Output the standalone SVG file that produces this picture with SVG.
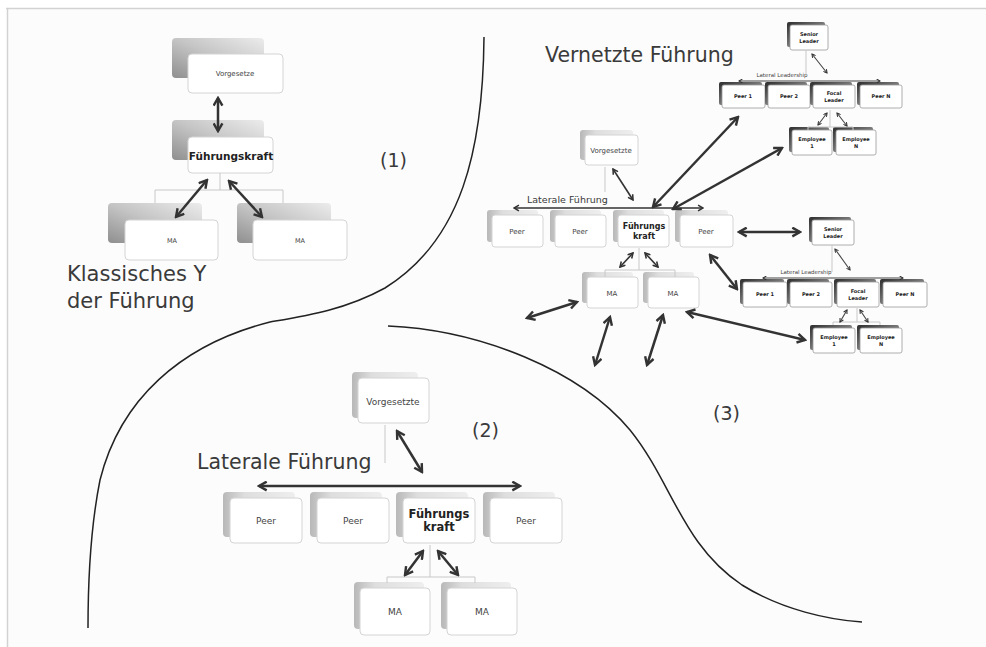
<svg xmlns="http://www.w3.org/2000/svg" width="986" height="647" viewBox="0 0 986 647">
<style>
.bk{fill:url(#gback)}
.bk2{fill:url(#gback2)}
.fr{fill:#fff;stroke:#d4d4d4;stroke-width:1}
.dk{fill:url(#gdark)}
.frd{fill:#fff;stroke:#9a9a9a;stroke-width:0.8}
.ln{stroke:#c8c8c8;stroke-width:1;fill:none}
.ar{stroke:#333;stroke-width:2.5;fill:none;marker-start:url(#ah);marker-end:url(#ah)}
.ars{stroke:#333;stroke-width:1.6;fill:none;marker-start:url(#ah);marker-end:url(#ah)}
.arx{stroke:#444;stroke-width:1.1;fill:none;marker-start:url(#ah);marker-end:url(#ah)}
.t{font-family:"DejaVu Sans",Verdana,sans-serif;fill:#444;text-anchor:middle}
.b{font-weight:bold;fill:#222}
.h{font-family:"DejaVu Sans",Verdana,sans-serif;fill:#3a3a3a}
.cv{fill:none;stroke:#222;stroke-width:1.5}
</style>
<defs>
<linearGradient id="gback" x1="0" y1="1" x2="1" y2="0">
<stop offset="0" stop-color="#8f8f8f"/><stop offset="0.5" stop-color="#c4c4c4"/><stop offset="1" stop-color="#ececec"/>
</linearGradient>
<linearGradient id="gback2" x1="0" y1="0" x2="1" y2="0">
<stop offset="0" stop-color="#b8b8b8"/><stop offset="0.3" stop-color="#dedede"/><stop offset="1" stop-color="#eeeeee"/>
</linearGradient>
<linearGradient id="gdark" x1="0" y1="0" x2="1" y2="1">
<stop offset="0" stop-color="#2e2e2e"/><stop offset="0.5" stop-color="#777"/><stop offset="1" stop-color="#bbb"/>
</linearGradient>
<marker id="ah" viewBox="0 0 10 10" refX="8.5" refY="5" markerWidth="4.4" markerHeight="4.4" orient="auto-start-reverse" markerUnits="strokeWidth">
<path d="M1.5,1 L8.5,5 L1.5,9" fill="none" stroke="#333" stroke-width="2.2" stroke-linejoin="miter"/>
</marker>
</defs>

<rect x="0" y="0" width="986" height="647" fill="#fff"/>
<rect x="8" y="9" width="978" height="638" fill="#fcfcfc"/>
<path d="M6,8.5 H986 M7.5,8 V647" stroke="#d2d2d2" stroke-width="1.5" fill="none"/>

<!-- region curves -->
<g id="curves">
<path class="cv" d="M484,37 C483,150 462,240 385,288 C345,310 305,316 270,322 C180,345 120,400 100,480 C90,530 88,590 88,628"/>
<path class="cv" d="M388,326 C480,330 580,370 630,430 C672,482 682,545 742,585 C782,610 830,620 862,622"/>
</g>

<!-- Panel 1 -->
<g id="p1-vorgesetze">
<rect class="bk" x="172" y="38" width="92" height="40" rx="4"/>
<rect class="fr" x="188" y="54" width="95" height="39" rx="4"/>
<text class="t" x="235" y="76" font-size="7">Vorgesetze</text>
</g>
<g id="p1-fuehrungskraft">
<rect class="bk" x="172" y="120" width="92" height="40" rx="4"/>
<rect class="fr" x="188" y="137" width="85" height="36" rx="4"/>
<text class="t b" x="231" y="160" font-size="10.5">Führungskraft</text>
</g>
<g id="p1-ma1">
<rect class="bk" x="108" y="203" width="94" height="40" rx="4"/>
<rect class="fr" x="125" y="220" width="93" height="40" rx="4"/>
<text class="t" x="172" y="243" font-size="6.5">MA</text>
</g>
<g id="p1-ma2">
<rect class="bk" x="237" y="203" width="94" height="40" rx="4"/>
<rect class="fr" x="253" y="220" width="94" height="40" rx="4"/>
<text class="t" x="300" y="243" font-size="6.5">MA</text>
</g>
<text class="h" x="380" y="167" font-size="19">(1)</text>
<text class="h" x="67" y="281" font-size="21">Klassisches Y</text>
<text class="h" x="67" y="308" font-size="21">der Führung</text>

<!-- Panel 2 -->
<g id="p2-vorgesetzte">
<rect class="bk2" x="352" y="372" width="66" height="46" rx="4"/>
<rect class="fr" x="358" y="378" width="71" height="45" rx="4"/>
<text class="t" x="393" y="405" font-size="9">Vorgesetzte</text>
</g>
<g id="p2-peer1">
<rect class="bk2" x="223" y="492" width="72" height="45" rx="4"/>
<rect class="fr" x="230" y="498" width="72" height="45" rx="4"/>
<text class="t" x="266" y="524" font-size="9">Peer</text>
</g>
<g id="p2-peer2">
<rect class="bk2" x="310" y="492" width="72" height="45" rx="4"/>
<rect class="fr" x="317" y="498" width="72" height="45" rx="4"/>
<text class="t" x="353" y="524" font-size="9">Peer</text>
</g>
<g id="p2-fuehrungskraft">
<rect class="bk2" x="396" y="492" width="72" height="45" rx="4"/>
<rect class="fr" x="403" y="498" width="72" height="45" rx="4"/>
<text class="t b" x="439" y="518" font-size="11.5">Führungs</text>
<text class="t b" x="439" y="531" font-size="11.5">kraft</text>
</g>
<g id="p2-peer3">
<rect class="bk2" x="483" y="492" width="72" height="45" rx="4"/>
<rect class="fr" x="490" y="498" width="72" height="45" rx="4"/>
<text class="t" x="526" y="524" font-size="9">Peer</text>
</g>
<g id="p2-ma1">
<rect class="bk2" x="354" y="582" width="70" height="47" rx="4"/>
<rect class="fr" x="360" y="588" width="70" height="47" rx="4"/>
<text class="t" x="395" y="615" font-size="9">MA</text>
</g>
<g id="p2-ma2">
<rect class="bk2" x="441" y="582" width="70" height="47" rx="4"/>
<rect class="fr" x="447" y="588" width="70" height="47" rx="4"/>
<text class="t" x="482" y="615" font-size="9">MA</text>
</g>
<text class="h" x="197" y="469" font-size="20.5">Laterale Führung</text>
<text class="h" x="472" y="437" font-size="19">(2)</text>

<!-- Panel 3 -->
<text class="h" x="545" y="62" font-size="20.5">Vernetzte Führung</text>
<text class="h" x="713" y="420" font-size="19">(3)</text>

<g id="p3-vorgesetzte">
<rect class="bk2" x="580" y="130" width="53" height="30" rx="3"/>
<rect class="fr" x="585" y="135" width="53" height="30" rx="3"/>
<text class="t" x="611" y="153" font-size="7">Vorgesetzte</text>
</g>
<g id="p3-peer1">
<rect class="bk2" x="487" y="210" width="51" height="32" rx="3"/>
<rect class="fr" x="492" y="215" width="51" height="32" rx="3"/>
<text class="t" x="517" y="234" font-size="7">Peer</text>
</g>
<g id="p3-peer2">
<rect class="bk2" x="550" y="210" width="51" height="32" rx="3"/>
<rect class="fr" x="555" y="215" width="51" height="32" rx="3"/>
<text class="t" x="580" y="234" font-size="7">Peer</text>
</g>
<g id="p3-fuehrungskraft">
<rect class="bk2" x="613" y="210" width="51" height="32" rx="3"/>
<rect class="fr" x="618" y="215" width="51" height="32" rx="3"/>
<text class="t b" x="644" y="229" font-size="8">Führungs</text>
<text class="t b" x="644" y="239" font-size="8">kraft</text>
</g>
<g id="p3-peer3">
<rect class="bk2" x="675" y="210" width="53" height="32" rx="3"/>
<rect class="fr" x="680" y="215" width="53" height="32" rx="3"/>
<text class="t" x="706" y="234" font-size="7">Peer</text>
</g>
<g id="p3-ma1">
<rect class="bk2" x="582" y="272" width="51" height="31" rx="3"/>
<rect class="fr" x="587" y="277" width="51" height="31" rx="3"/>
<text class="t" x="612" y="296" font-size="7">MA</text>
</g>
<g id="p3-ma2">
<rect class="bk2" x="643" y="272" width="51" height="31" rx="3"/>
<rect class="fr" x="648" y="277" width="51" height="31" rx="3"/>
<text class="t" x="673" y="296" font-size="7">MA</text>
</g>
<text class="h" x="527" y="203" font-size="9.5" fill="#555">Laterale Führung</text>

<!-- cluster A (top) -->
<g id="a-senior">
<rect class="dk" x="787" y="22" width="38" height="25" rx="2"/>
<rect class="frd" x="790" y="25" width="38" height="25" rx="2"/>
<text class="t b" x="809" y="36" font-size="5">Senior</text>
<text class="t b" x="809" y="43" font-size="5">Leader</text>
</g>
<text class="t" x="782" y="77" font-size="5.5">Lateral Leadership</text>
<g id="a-peer1">
<rect class="dk" x="719" y="82" width="43" height="23" rx="2"/>
<rect class="frd" x="722" y="85" width="43" height="23" rx="2"/>
<text class="t b" x="743" y="98" font-size="5">Peer 1</text>
</g>
<g id="a-peer2">
<rect class="dk" x="765" y="82" width="42" height="23" rx="2"/>
<rect class="frd" x="768" y="85" width="42" height="23" rx="2"/>
<text class="t b" x="789" y="98" font-size="5">Peer 2</text>
</g>
<g id="a-focal">
<rect class="dk" x="810" y="82" width="42" height="23" rx="2"/>
<rect class="frd" x="813" y="85" width="42" height="23" rx="2"/>
<text class="t b" x="834" y="95" font-size="5">Focal</text>
<text class="t b" x="834" y="102" font-size="5">Leader</text>
</g>
<g id="a-peern">
<rect class="dk" x="857" y="82" width="42" height="23" rx="2"/>
<rect class="frd" x="860" y="85" width="42" height="23" rx="2"/>
<text class="t b" x="881" y="98" font-size="5">Peer N</text>
</g>
<g id="a-emp1">
<rect class="dk" x="789" y="127" width="40" height="25" rx="2"/>
<rect class="frd" x="792" y="130" width="40" height="25" rx="2"/>
<text class="t b" x="812" y="141" font-size="5">Employee</text>
<text class="t b" x="812" y="148" font-size="5">1</text>
</g>
<g id="a-empn">
<rect class="dk" x="833" y="127" width="40" height="25" rx="2"/>
<rect class="frd" x="836" y="130" width="40" height="25" rx="2"/>
<text class="t b" x="856" y="141" font-size="5">Employee</text>
<text class="t b" x="856" y="148" font-size="5">N</text>
</g>

<!-- cluster B -->
<g id="b-senior">
<rect class="dk" x="809" y="217" width="42" height="25" rx="2"/>
<rect class="frd" x="812" y="220" width="42" height="25" rx="2"/>
<text class="t b" x="833" y="231" font-size="5">Senior</text>
<text class="t b" x="833" y="238" font-size="5">Leader</text>
</g>
<text class="t" x="806" y="274" font-size="5.5">Lateral Leadership</text>
<g id="b-peer1">
<rect class="dk" x="740" y="279" width="44" height="25" rx="2"/>
<rect class="frd" x="743" y="282" width="44" height="25" rx="2"/>
<text class="t b" x="765" y="296" font-size="5">Peer 1</text>
</g>
<g id="b-peer2">
<rect class="dk" x="787" y="279" width="42" height="25" rx="2"/>
<rect class="frd" x="790" y="282" width="42" height="25" rx="2"/>
<text class="t b" x="811" y="296" font-size="5">Peer 2</text>
</g>
<g id="b-focal">
<rect class="dk" x="834" y="279" width="42" height="25" rx="2"/>
<rect class="frd" x="837" y="282" width="42" height="25" rx="2"/>
<text class="t b" x="858" y="293" font-size="5">Focal</text>
<text class="t b" x="858" y="300" font-size="5">Leader</text>
</g>
<g id="b-peern">
<rect class="dk" x="880" y="279" width="44" height="25" rx="2"/>
<rect class="frd" x="883" y="282" width="44" height="25" rx="2"/>
<text class="t b" x="905" y="296" font-size="5">Peer N</text>
</g>
<g id="b-emp1">
<rect class="dk" x="810" y="325" width="42" height="25" rx="2"/>
<rect class="frd" x="813" y="328" width="42" height="25" rx="2"/>
<text class="t b" x="834" y="339" font-size="5">Employee</text>
<text class="t b" x="834" y="346" font-size="5">1</text>
</g>
<g id="b-empn">
<rect class="dk" x="857" y="325" width="42" height="25" rx="2"/>
<rect class="frd" x="860" y="328" width="42" height="25" rx="2"/>
<text class="t b" x="881" y="339" font-size="5">Employee</text>
<text class="t b" x="881" y="346" font-size="5">N</text>
</g>

<!-- connectors -->
<g id="connectors">
<!-- panel 1 -->
<path class="ln" d="M220,173 V190 M155,203 V190 H283 V203"/>
<path class="ar" d="M218,98 V131"/>
<path class="ar" d="M207,180 L176,217"/>
<path class="ar" d="M229,181 L262,217"/>
<!-- panel 2 -->
<path class="ln" d="M385,425 V463"/>
<path class="ar" d="M397,431 L422,472"/>
<path class="ar" d="M259,486 H520"/>
<path class="ln" d="M430,545 V577 M387,583 V577 H475 V583"/>
<path class="ar" d="M423,551 L405,575"/>
<path class="ar" d="M438,551 L458,575"/>
<!-- panel 3 medium -->
<path class="ln" d="M605,167 V192"/>
<path class="ars" d="M613,169 L633,200"/>
<path class="ars" d="M514,208 H703"/>
<path class="ln" d="M639,248 V270 M605,277 V270 H675 V277"/>
<path class="ars" d="M633,253 L620,267"/>
<path class="ars" d="M645,253 L658,267"/>
<!-- cluster A -->
<path class="ln" d="M806,50 V75"/>
<path class="arx" d="M812,54 L827,73"/>
<path class="arx" d="M739,81 H880"/>
<path class="ln" d="M830,110 V127 M808,130 V127 H853 V130"/>
<path class="arx" d="M827,113 L818,125"/>
<path class="arx" d="M837,113 L847,126"/>
<!-- cluster B -->
<path class="ln" d="M832,245 V272"/>
<path class="arx" d="M835,249 L850,270"/>
<path class="arx" d="M763,278 H903"/>
<path class="ln" d="M857,308 V322 M833,325 V322 H880 V325"/>
<path class="arx" d="M847,310 L840,322"/>
<path class="arx" d="M860,310 L868,322"/>
<!-- network arrows -->
<path class="ar" d="M653,207 L738,117"/>
<path class="ar" d="M673,209 L782,148"/>
<path class="ar" d="M739,232 H800"/>
<path class="ar" d="M710,255 L737,289"/>
<path class="ar" d="M687,312 L805,340"/>
<path class="ar" d="M527,318 L577,302"/>
<path class="ar" d="M610,317 L595,365"/>
<path class="ar" d="M663,315 L647,365"/>
</g>
</svg>
